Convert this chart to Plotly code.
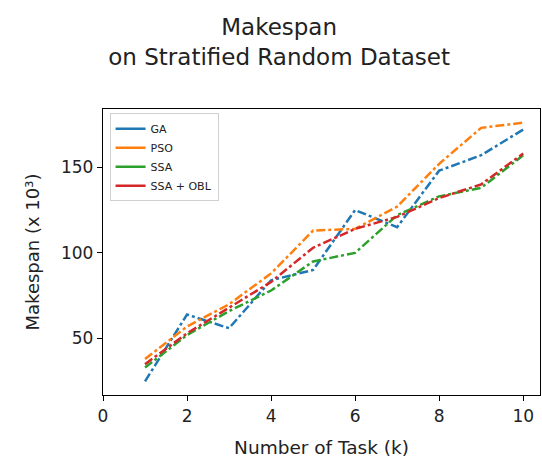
import plotly.graph_objects as go

tasks = [1, 2, 3, 4, 5, 6, 7, 8, 9, 10]
ga = [25, 64, 56, 84, 90, 125, 115, 148, 157, 172]
pso = [38, 57, 70, 88, 113, 114, 127, 152, 173, 176]
ssa = [33, 52, 66, 78, 95, 100, 122, 133, 138, 157]
ssa_obl = [35, 53, 68, 83, 103, 114, 121, 132, 140, 158]

series = [("GA", ga, "#1f77b4"), ("PSO", pso, "#ff7f0e"),
          ("SSA", ssa, "#2ca02c"), ("SSA + OBL", ssa_obl, "#d62728")]

fig = go.Figure()
for name, vals, col in series:
    fig.add_trace(go.Scatter(x=tasks, y=vals, mode="lines", name=name, showlegend=False,
                             legendgroup=name,
                             line=dict(color=col, width=2.5, dash="dashdot")))
# legend entries with solid sample lines, as in the reference legend
for name, vals, col in series:
    fig.add_trace(go.Scatter(x=[None], y=[None], mode="lines", name=name, legendgroup=name,
                             line=dict(color=col, width=2.5)))

axis_common = dict(showline=True, linecolor="black", linewidth=1.3, mirror=True,
                   ticks="outside", ticklen=5, tickcolor="black", showgrid=False,
                   zeroline=False, tickfont=dict(size=17, color="#222"))

fig.update_layout(
    width=542, height=462,
    margin=dict(l=103, r=2, t=109, b=67),
    paper_bgcolor="white", plot_bgcolor="white",
    font=dict(family="DejaVu Sans", color="#222"),
    title=dict(text="Makespan<br>on Stratified Random Dataset", x=0.515, xref="container",
               xanchor="center", y=0.925, yanchor="top", font=dict(size=23)),
    xaxis=dict(range=[0, 10.4], tickvals=[0, 2, 4, 6, 8, 10],
               title=dict(text="Number of Task (k)", font=dict(size=18.5), standoff=16), **axis_common),
    yaxis=dict(range=[17, 184], tickvals=[50, 100, 150],
               title=dict(text="Makespan (x 10³)", font=dict(size=18), standoff=16), **axis_common),
    legend=dict(x=0.015, y=0.985, xanchor="left", yanchor="top", bgcolor="white",
                bordercolor="#d0d0d0", borderwidth=1, font=dict(size=11),
                itemwidth=30, tracegroupgap=0),
    showlegend=True,
)

fig.write_html("out.html")
